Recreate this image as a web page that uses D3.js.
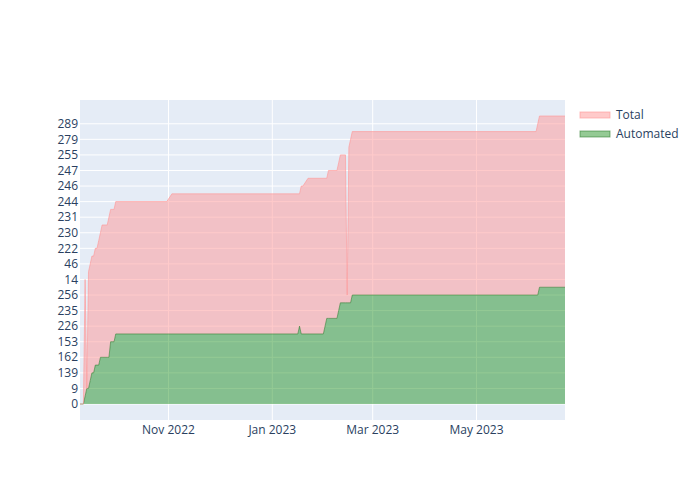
<!DOCTYPE html>
<html>
<head>
<meta charset="utf-8">
<script src="https://cdn.jsdelivr.net/npm/d3@7"></script>
<style>
  body { margin: 0; background: #fff; }
  svg text { font-family: "Open Sans", verdana, arial, sans-serif; }
</style>
</head>
<body>
<div id="chart"></div>
<script>
// category axis: order of first appearance, every second one gets a label
var categories = ["0", "3", "9", "97", "139", "148", "162", "150", "153", "159",
    "226", "232", "235", "240", "256", "262", "14", "27", "46", "188",
    "222", "225", "230", "227", "231", "238", "244", "245", "246", "250",
    "247", "253", "255", "268", "279", "285", "289", "297"];

var dates = ["2022-09-10", "2022-09-12", "2022-09-13", "2022-09-14", "2022-09-15",
    "2022-09-16", "2022-09-17", "2022-09-18", "2022-09-19", "2022-09-20",
    "2022-09-21", "2022-09-22", "2022-09-23", "2022-09-26", "2022-09-27",
    "2022-09-28", "2022-09-30", "2022-10-01", "2022-10-31", "2022-11-03",
    "2023-01-16", "2023-01-17", "2023-01-18", "2023-01-19", "2023-01-22",
    "2023-01-31", "2023-02-02", "2023-02-03", "2023-02-08", "2023-02-09",
    "2023-02-10", "2023-02-13", "2023-02-14", "2023-02-15", "2023-02-16",
    "2023-02-17", "2023-06-05", "2023-06-06", "2023-06-07", "2023-06-22"];

var totalValues = ["0", "0", "14", "9", "27", "46", "188", "188", "222", "222",
    "225", "230", "227", "227", "231", "238", "238", "244", "244", "245",
    "245", "245", "246", "246", "250", "250", "250", "247", "247", "253",
    "255", "255", "256", "268", "279", "285", "285", "289", "297", "297"];

var automatedValues = ["0", "0", "3", "9", "9", "97", "139", "139", "148", "148",
    "148", "162", "162", "162", "162", "153", "153", "159", "159", "159",
    "159", "226", "159", "159", "159", "159", "232", "232", "232", "235",
    "240", "240", "240", "240", "240", "256", "256", "256", "262", "262"];

var seriesNames = ["Total", "Automated"];

var width = 700, height = 500,
    margin = {left: 80, right: 135, top: 100, bottom: 80},
    plotW = width - margin.left - margin.right,
    plotH = height - margin.top - margin.bottom,
    pad = plotH * 0.05,
    textColor = "#2a3f5f";

var parseDate = d3.timeParse("%Y-%m-%d");
var rows = dates.map(function (d, i) {
    return {date: parseDate(d), total: totalValues[i], automated: automatedValues[i]};
});

var x = d3.scaleTime()
    .domain(d3.extent(rows, function (d) { return d.date; }))
    .range([margin.left, margin.left + plotW]);

var y = d3.scalePoint()
    .domain(categories)
    .range([margin.top + plotH - pad, margin.top + pad]);

var svg = d3.select("#chart").append("svg")
    .attr("width", width)
    .attr("height", height);

svg.append("rect")
    .attr("x", margin.left).attr("y", margin.top)
    .attr("width", plotW).attr("height", plotH)
    .attr("fill", "#E5ECF6");

svg.append("clipPath").attr("id", "plot-clip")
    .append("rect")
    .attr("x", margin.left).attr("y", margin.top)
    .attr("width", plotW).attr("height", plotH);

var xTicks = x.ticks(d3.timeMonth.every(2)),
    yTicks = categories.filter(function (c, i) { return i % 2 === 0; });

// grid
var grid = svg.append("g");
grid.selectAll(".xg").data(xTicks).enter().append("line")
    .attr("x1", function (d) { return x(d); })
    .attr("x2", function (d) { return x(d); })
    .attr("y1", margin.top).attr("y2", margin.top + plotH)
    .attr("stroke", "#fff").attr("stroke-width", 1);
grid.selectAll(".yg").data(yTicks).enter().append("line")
    .attr("x1", margin.left).attr("x2", margin.left + plotW)
    .attr("y1", function (d) { return y(d); })
    .attr("y2", function (d) { return y(d); })
    .attr("stroke", "#fff").attr("stroke-width", 1);

var plot = svg.append("g").attr("clip-path", "url(#plot-clip)");

var totalArea = d3.area()
    .x(function (d) { return x(d.date); })
    .y0(function (d) { return y(d.automated); })
    .y1(function (d) { return y(d.total); });

var automatedArea = d3.area()
    .x(function (d) { return x(d.date); })
    .y0(y("0"))
    .y1(function (d) { return y(d.automated); });

var totalLine = d3.line()
    .x(function (d) { return x(d.date); })
    .y(function (d) { return y(d.total); });

var automatedLine = d3.line()
    .x(function (d) { return x(d.date); })
    .y(function (d) { return y(d.automated); });

plot.append("path").datum(rows)
    .attr("d", automatedArea)
    .attr("fill", "rgba(0,128,0,0.42)");
plot.append("path").datum(rows)
    .attr("d", totalArea)
    .attr("fill", "rgba(255,150,150,0.5)");
plot.append("path").datum(rows)
    .attr("d", automatedLine)
    .attr("fill", "none")
    .attr("stroke", "rgba(40,120,40,0.55)")
    .attr("stroke-width", 1);
plot.append("path").datum(rows)
    .attr("d", totalLine)
    .attr("fill", "none")
    .attr("stroke", "rgba(255,150,150,0.6)")
    .attr("stroke-width", 1);

// axes labels
svg.append("g").selectAll("text").data(xTicks).enter().append("text")
    .attr("x", function (d) { return x(d); })
    .attr("y", margin.top + plotH + 13.5)
    .attr("text-anchor", "middle")
    .attr("font-size", 12)
    .attr("fill", textColor)
    .text(d3.timeFormat("%b %Y"));

svg.append("g").selectAll("text").data(yTicks).enter().append("text")
    .attr("x", margin.left - 2)
    .attr("y", function (d) { return y(d) + 4.2; })
    .attr("text-anchor", "end")
    .attr("font-size", 12)
    .attr("fill", textColor)
    .text(function (d) { return d; });

// legend
var legendFill = ["rgba(255,150,150,0.5)", "rgba(0,128,0,0.42)"],
    legendStroke = ["rgba(255,150,150,0.6)", "rgba(40,120,40,0.55)"];
var legend = svg.append("g").selectAll("g").data(seriesNames).enter().append("g")
    .attr("transform", function (d, i) { return "translate(580," + (115 + i * 19) + ")"; });
legend.append("rect")
    .attr("x", 0).attr("y", -3)
    .attr("width", 30).attr("height", 6)
    .attr("fill", function (d, i) { return legendFill[i]; })
    .attr("stroke", function (d, i) { return legendStroke[i]; })
    .attr("stroke-width", 1);
legend.append("text")
    .attr("x", 36).attr("y", 4.2)
    .attr("font-size", 12)
    .attr("fill", textColor)
    .text(function (d) { return d; });
</script>
</body>
</html>
